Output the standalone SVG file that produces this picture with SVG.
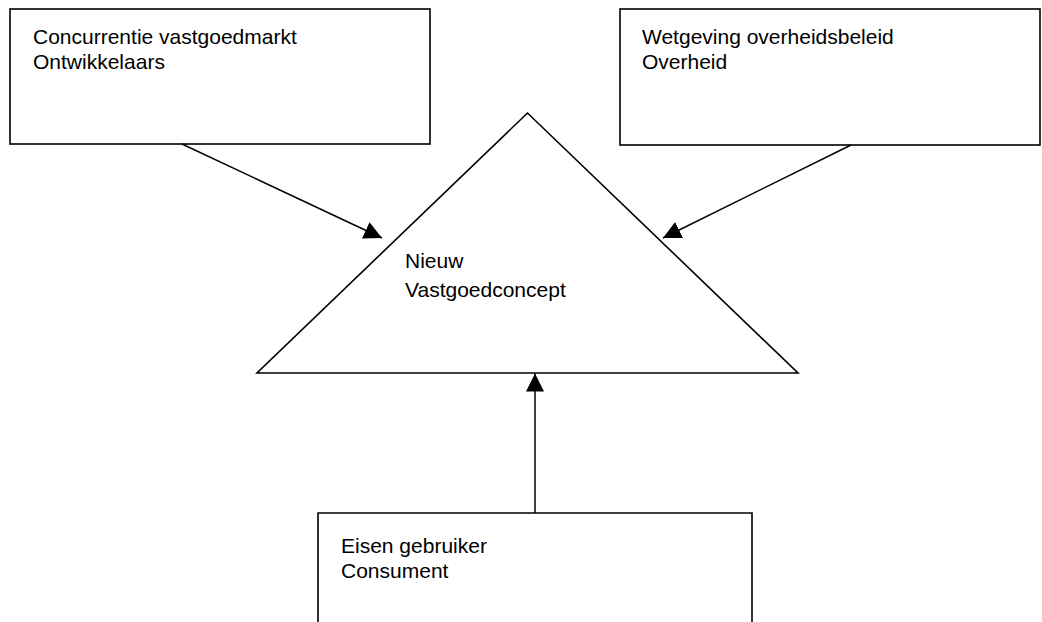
<svg xmlns="http://www.w3.org/2000/svg" width="1042" height="622" viewBox="0 0 1042 622">
<defs>
<style>
.box{fill:#fff;stroke:#000;stroke-width:1.6}
.tri{fill:#fff;stroke:#000;stroke-width:1.6}
.lbl{font-family:"Liberation Sans",Arial,sans-serif;font-size:21px;fill:#000}
.con{stroke:#000;stroke-width:1.5;fill:none;marker-end:url(#ah)}
</style>
<marker id="ah" markerUnits="userSpaceOnUse" markerWidth="18" markerHeight="18" viewBox="0 0 16 16" refX="16" refY="8" orient="auto">
<path d="M0,0 L16,8 L0,16 Z" fill="#000"/>
</marker>
</defs>
<rect width="1042" height="622" fill="#fff"/>
<g id="node-concurrentie">
<rect class="box" x="10" y="9" width="420" height="135"/>
<text class="lbl" x="33" y="44">Concurrentie vastgoedmarkt</text>
<text class="lbl" x="33" y="69">Ontwikkelaars</text>
</g>
<g id="node-wetgeving">
<rect class="box" x="620" y="9" width="420" height="136"/>
<text class="lbl" x="642" y="44">Wetgeving overheidsbeleid</text>
<text class="lbl" x="642" y="69">Overheid</text>
</g>
<g id="node-concept">
<polygon class="tri" points="527.5,113 257,373 798,373"/>
<text class="lbl" x="405" y="268">Nieuw</text>
<text class="lbl" x="405" y="297">Vastgoedconcept</text>
</g>
<g id="node-eisen">
<path class="box" d="M318,624 L318,513 L752,513 L752,624"/>
<text class="lbl" x="341" y="553">Eisen gebruiker</text>
<text class="lbl" x="341" y="578">Consument</text>
</g>
<g id="connectors">
<line class="con" x1="182" y1="144" x2="382" y2="238"/>
<line class="con" x1="851" y1="145" x2="663" y2="238"/>
<line class="con" x1="535" y1="513" x2="535" y2="373.5"/>
</g>
</svg>
